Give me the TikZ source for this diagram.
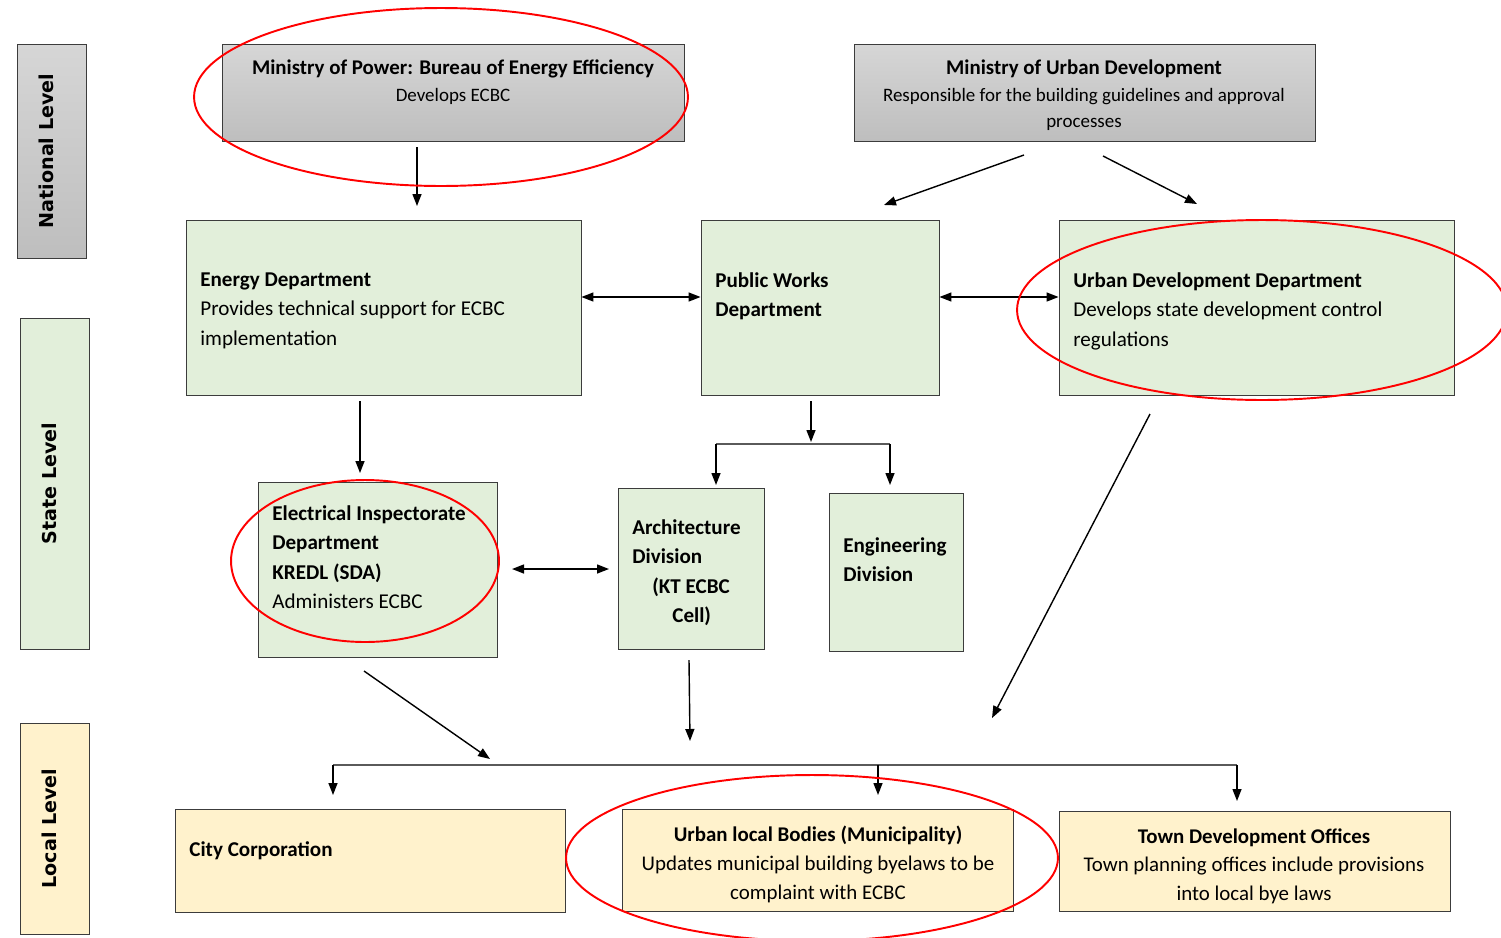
\documentclass[tikz,border=0pt]{standalone}
\usepackage{fontspec}
\setmainfont{Carlito}
\newfontfamily\levelFont{DejaVu Sans}
\usetikzlibrary{arrows.meta,fit}
\definecolor{boxGreen}{RGB}{226,239,218}
\definecolor{boxYellow}{RGB}{255,242,204}
\definecolor{boxLine}{RGB}{60,60,60}
\definecolor{grayTop}{RGB}{214,214,214}
\definecolor{grayBot}{RGB}{190,190,190}
\definecolor{branchGray}{RGB}{90,90,90}

\begin{document}
\begin{tikzpicture}[x=0.02cm,y=-0.02cm,
    box/.style={draw=boxLine,line width=0.5pt,inner sep=0pt},
    natBox/.style={box,top color=grayTop,bottom color=grayBot},
    stateBox/.style={box,fill=boxGreen},
    localBox/.style={box,fill=boxYellow},
    lvl/.style={rotate=90,yshift=0.11cm,inner sep=0pt,font=\levelFont\bfseries\fontsize{10.9}{12}\selectfont},
    txt/.style={inner sep=0pt,align=left,font=\fontsize{12}{16.8}\selectfont},
    ctxt/.style={inner sep=0pt,align=center,font=\fontsize{11.9}{16.3}\selectfont},
    gtxt/.style={inner sep=0pt,align=center,font=\fontsize{10.8}{14.6}\selectfont},
    arr/.style={line width=0.8pt,-{Triangle[length=2.4mm,width=1.8mm]}},
    dbl/.style={line width=0.8pt,{Triangle[length=2.4mm,width=1.8mm]}-{Triangle[length=2.4mm,width=1.8mm]}},
    branch/.style={line width=0.9pt,draw=branchGray},
    ring/.style={red,line width=1.1pt}]

    \clip (0,0) rectangle (1501,937);

    % levels
    \node[natBox,fit={(17,44) (86,258)}] (natl) {};
    \node[stateBox,fit={(20,318) (89,649)}] (state) {};
    \node[localBox,fit={(20,723) (89,934)}] (local) {};
    \node[lvl] (natlTxt) at (natl.center) {National Level};
    \node[lvl] (stateTxt) at (state.center) {State Level};
    \node[lvl] (localTxt) at (local.center) {Local Level};

    % national
    \node[natBox,fit={(222,44) (684,141)}] (mop) {};
    \node[natBox,fit={(854,44) (1315,141)}] (moud) {};
    \node[gtxt,anchor=north] (mopTxt) at (453,59)
        {{\fontsize{11.9}{14.6}\selectfont\bfseries Ministry of Power: Bureau of Energy Efficiency}\\[1pt]Develops ECBC};
    \node[gtxt,anchor=north] (moudTxt) at (1084,59)
        {{\fontsize{11.9}{14.6}\selectfont\bfseries Ministry of Urban Development}\\[1pt]Responsible for the building guidelines and approval\\processes};

    % state
    \node[stateBox,fit={(186,220) (581,395)}] (energy) {};
    \node[stateBox,fit={(701,220) (939,395)}] (pwd) {};
    \node[stateBox,fit={(1059,220) (1454,395)}] (udd) {};
    \node[stateBox,fit={(258,482) (497,657)}] (eid) {};
    \node[stateBox,fit={(618,488) (764,649)}] (arch) {};
    \node[stateBox,fit={(829,493) (963,651)}] (eng) {};
    \node[txt,anchor=north west] (energyTxt) at (200,272)
        {\textbf{Energy Department}\\Provides technical support for ECBC\\implementation};
    \node[txt,anchor=north west] (pwdTxt) at (715,272)
        {\textbf{Public Works}\\\textbf{Department}};
    \node[txt,anchor=north west] (uddTxt) at (1073,272)
        {\textbf{Urban Development Department}\\Develops state development control\\regulations};
    \node[txt,anchor=north west] (eidTxt) at (272,505)
        {\textbf{Electrical Inspectorate}\\\textbf{Department}\\\textbf{KREDL (SDA)}\\Administers ECBC};
    \node[txt,anchor=north west,font=\fontsize{12}{16.8}\selectfont\bfseries] (archTxt) at (632,519)
        {Architecture\\Division\\\hspace*{0.4cm}(KT ECBC\\\hspace*{0.8cm}Cell)};
    \node[txt,anchor=north west,font=\fontsize{12}{16.8}\selectfont\bfseries] (engTxt) at (843,537)
        {Engineering\\Division};

    % local
    \node[localBox,fit={(175,809) (565,912)}] (city) {};
    \node[localBox,fit={(622,809) (1013,911)}] (ulb) {};
    \node[localBox,fit={(1059,811) (1450,911)}] (tdo) {};
    \node[txt,anchor=north west] (cityTxt) at (189,841) {\textbf{City Corporation}};
    \node[ctxt,anchor=north] (ulbTxt) at (818,826)
        {\textbf{Urban local Bodies (Municipality)}\\Updates municipal building byelaws to be\\complaint with ECBC};
    \node[ctxt,anchor=north] (tdoTxt) at (1254,828)
        {\textbf{Town Development Offices}\\Town planning offices include provisions\\into local bye laws};

    % connector ends
    \coordinate (mopOut) at (417,147);
    \coordinate (energyIn) at (417,206);
    \coordinate (moudOutL) at (1024,155);
    \coordinate (pwdIn) at (884,205);
    \coordinate (moudOutR) at (1103,156);
    \coordinate (uddIn) at (1197,204);
    \coordinate (energyOut) at (360,401);
    \coordinate (eidIn) at (360,473);
    \coordinate (pwdOut) at (811,401);
    \coordinate (pwdFork) at (811,442);
    \coordinate (forkL) at (716,444);
    \coordinate (forkR) at (890,444);
    \coordinate (archIn) at (716,485);
    \coordinate (engIn) at (890,485);
    \coordinate (eidEast) at (512,569);
    \coordinate (archWest) at (609,569);
    \coordinate (eidOut) at (364,671);
    \coordinate (eidEnd) at (490,759);
    \coordinate (archOut) at (689,660);
    \coordinate (archEnd) at (690,741);
    \coordinate (uddOut) at (1150,414);
    \coordinate (uddEnd) at (992,718);
    \coordinate (busL) at (333,765);
    \coordinate (busM) at (878,765);
    \coordinate (busR) at (1237,765);
    \coordinate (cityIn) at (333,795);
    \coordinate (ulbIn) at (878,795);
    \coordinate (tdoIn) at (1237,801);

    \draw[arr] (mopOut) -- (energyIn);
    \draw[arr] (moudOutL) -- (pwdIn);
    \draw[arr] (moudOutR) -- (uddIn);
    \draw[dbl] ([yshift=0.21cm]energy.east) -- ([yshift=0.21cm]pwd.west);
    \draw[dbl] ([yshift=0.21cm]pwd.east) -- ([yshift=0.21cm]udd.west);
    \draw[arr] (energyOut) -- (eidIn);
    \draw[arr] (pwdOut) -- (pwdFork);
    \draw[branch] (forkL) -- (forkR);
    \draw[arr] (forkL) -- (archIn);
    \draw[arr] (forkR) -- (engIn);
    \draw[dbl] (eidEast) -- (archWest);
    \draw[arr] (eidOut) -- (eidEnd);
    \draw[arr] (archOut) -- (archEnd);
    \draw[arr] (uddOut) -- (uddEnd);
    \draw[branch] (busL) -- (busR);
    \draw[arr] (busL) -- (cityIn);
    \draw[arr] (busM) -- (ulbIn);
    \draw[arr] (busR) -- (tdoIn);

    % highlights
    \draw[ring] (441,97) ellipse [x radius=4.94cm, y radius=1.78cm];
    \draw[ring] (1262,310) ellipse [x radius=4.9cm, y radius=1.8cm];
    \draw[ring] (365,561) ellipse [x radius=2.68cm, y radius=1.62cm];
    \draw[ring] (812,858) ellipse [x radius=4.92cm, y radius=1.66cm];
\end{tikzpicture}
\end{document}
